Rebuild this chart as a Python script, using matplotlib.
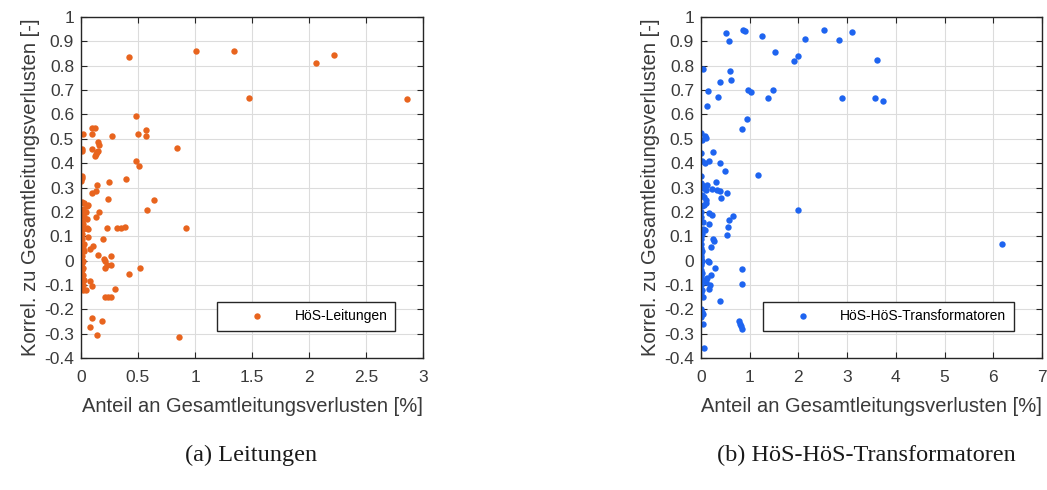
import matplotlib
matplotlib.use("Agg")
import matplotlib.pyplot as plt
import numpy as np

plt.rcParams['font.family'] = ['Liberation Sans', 'DejaVu Sans']
plt.rcParams['axes.unicode_minus'] = False

# ---------------- data ----------------
leit_x = [0.42, 1.01, 1.34, 1.47, 2.06, 2.22, 2.86,
          0.485, 0.50, 0.57, 0.57, 0.48, 0.51, 0.845, 0.27,
          0.015, 0.10, 0.12, 0.10, 0.01, 0.01, 0.094, 0.15, 0.16, 0.14, 0.13, 0.12, 0.15,
          0.01, 0.003, 0.005, 0.245, 0.395, 0.14, 0.094, 0.13, 0.237, 0.64, 0.58, 0.16, 0.13,
          0.01, 0.03, 0.05, 0.06, 0.02, 0.04, 0.0, 0.03, 0.05, 0.01, 0.02,
          0.23, 0.32, 0.35, 0.39, 0.925, 0.02, 0.05, 0.06,
          0.01, 0.06, 0.19, 0.01, 0.02, 0.03, 0.08, 0.105, 0.15, 0.20, 0.21, 0.26, 0.225, 0.265, 0.21, 0.515, 0.42,
          0.0, 0.01, 0.0, 0.02, 0.01, 0.0, 0.02, 0.01, 0.0, 0.02, 0.01, 0.03, 0.0, 0.02, 0.01, 0.0, 0.03,
          0.08, 0.10, 0.02, 0.04, 0.30, 0.21, 0.24, 0.26, 0.094, 0.18, 0.08, 0.14, 0.857]
leit_y = [0.837, 0.859, 0.86, 0.669, 0.81, 0.845, 0.665,
          0.595, 0.52, 0.535, 0.513, 0.409, 0.39, 0.461, 0.513,
          0.518, 0.546, 0.546, 0.518, 0.46, 0.45, 0.458, 0.488, 0.475, 0.445, 0.437, 0.43, 0.45,
          0.347, 0.327, 0.34, 0.323, 0.334, 0.309, 0.277, 0.287, 0.253, 0.247, 0.208, 0.2, 0.178,
          0.24, 0.235, 0.225, 0.23, 0.21, 0.2, 0.19, 0.18, 0.17, 0.16, 0.15,
          0.133, 0.134, 0.133, 0.137, 0.133, 0.13, 0.132, 0.13,
          0.09, 0.098, 0.089, 0.06, 0.05, 0.04, 0.048, 0.061, 0.023, 0.007, -0.002, 0.02, -0.02, -0.02, -0.029, -0.029, -0.054,
          0.03, 0.02, 0.01, 0.0, -0.01, -0.02, -0.03, -0.04, -0.05, -0.06, -0.07, -0.08, -0.09, -0.1, 0.11, 0.1, 0.07,
          -0.084, -0.104, -0.12, -0.12, -0.117, -0.148, -0.148, -0.148, -0.236, -0.249, -0.274, -0.304, -0.315]

trafo_x = [0.51, 0.58, 0.87, 0.91, 1.25, 1.52, 1.91, 2.0, 2.14, 2.52, 2.83, 3.09, 3.61, 2.89, 3.58, 3.74, 6.17,
           0.05, 0.60, 0.61, 0.38, 0.14, 0.35, 0.13, 0.97, 1.03, 1.48, 1.37, 0.94, 0.85, 1.18,
           0.0, 0.02, 0.09, 0.11, 0.0, 0.03, 0.08, 0.16, 0.25, 0.40, 0.49, 0.01, 0.0, 0.12, 0.22, 0.31, 0.33, 0.39, 0.54, 0.42,
           0.02, 0.05, 0.10, 0.02, 0.06, 0.10, 0.03, 0.06, 0.10, 0.17, 0.23, 0.66, 0.57, 0.55, 2.0, 0.0, 0.01, 0.05, 0.17, 0.09,
           0.53, 0.05, 0.02, 0.0, 0.24, 0.27, 0.21,
           0.0, 0.01, 0.0, 0.02, 0.0, 0.01, 0.0, 0.02, 0.0, 0.01, 0.0, 0.02, 0.0,
           0.15, 0.17, 0.29, 0.84, 0.21, 0.12, 0.84, 0.05, 0.10, 0.18, 0.17, 0.0, 0.02, 0.01, 0.04, 0.38,
           0.01, 0.02, 0.04, 0.0, 0.04, 0.77, 0.81, 0.83, 0.84, 0.07]
trafo_y = [0.933, 0.90, 0.948, 0.944, 0.92, 0.855, 0.82, 0.84, 0.91, 0.948, 0.904, 0.938, 0.822, 0.669, 0.667, 0.654, 0.069,
           0.786, 0.778, 0.741, 0.735, 0.695, 0.67, 0.633, 0.699, 0.693, 0.70, 0.669, 0.581, 0.541, 0.351,
           0.524, 0.494, 0.51, 0.505, 0.442, 0.41, 0.40, 0.408, 0.447, 0.40, 0.366, 0.349, 0.32, 0.31, 0.293, 0.324, 0.29, 0.287, 0.276, 0.256,
           0.31, 0.30, 0.29, 0.27, 0.26, 0.25, 0.225, 0.23, 0.235, 0.197, 0.187, 0.184, 0.167, 0.139, 0.206, 0.2, 0.18, 0.16, 0.15, 0.125,
           0.105, 0.13, 0.11, 0.10, 0.087, 0.08, 0.057,
           0.09, 0.07, 0.05, 0.04, 0.03, 0.02, 0.01, 0.0, -0.01, -0.02, -0.04, -0.05, -0.065,
           0.0, -0.007, -0.03, -0.036, -0.06, -0.07, -0.097, -0.08, -0.09, -0.1, -0.118, -0.1, -0.12, -0.135, -0.15, -0.166,
           -0.2, -0.21, -0.22, -0.23, -0.26, -0.25, -0.26, -0.27, -0.28, -0.357]

y_ticks = [-0.4, -0.3, -0.2, -0.1, 0, 0.1, 0.2, 0.3, 0.4, 0.5, 0.6, 0.7, 0.8, 0.9, 1]
y_ticklabels = ['-0.4', '-0.3', '-0.2', '-0.1', '0', '0.1', '0.2', '0.3', '0.4', '0.5',
                '0.6', '0.7', '0.8', '0.9', '1']
x_ticks_a = [0, 0.5, 1, 1.5, 2, 2.5, 3]
x_ticklabels_a = ['0', '0.5', '1', '1.5', '2', '2.5', '3']
x_ticks_b = [0, 1, 2, 3, 4, 5, 6, 7]
x_ticklabels_b = ['0', '1', '2', '3', '4', '5', '6', '7']

xlabel = 'Anteil an Gesamtleitungsverlusten [%]'
ylabel = 'Korrel. zu Gesamtleitungsverlusten [-]'
legend_a = 'HöS-Leitungen'
legend_b = 'HöS-HöS-Transformatoren'
caption_a = '(a) Leitungen'
caption_b = '(b) HöS-HöS-Transformatoren'

col_a = '#E8641E'
col_b = '#1E64F0'
axcol = '#262626'
txtcol = '#3a3a3a'

W, H = 1047, 490
fig = plt.figure(figsize=(W / 100, H / 100), dpi=100)

def make_ax(rect, xs, ys, col, xt, xtl, xmax, leg):
    ax = fig.add_axes(rect)
    ax.plot(xs, ys, linestyle='none', marker='o', markersize=4.6,
            color=col, markeredgewidth=0, label=leg)
    ax.set_xlim(0, xmax)
    ax.set_ylim(-0.4, 1)
    ax.set_xticks(xt)
    ax.set_xticklabels(xtl)
    ax.set_yticks(y_ticks)
    ax.set_yticklabels(y_ticklabels)
    ax.grid(True, color='#DCDCDC', linewidth=0.8)
    ax.set_axisbelow(True)
    for s in ax.spines.values():
        s.set_color(axcol)
        s.set_linewidth(1.0)
    ax.tick_params(direction='in', length=4, width=0.8, colors=axcol,
                   labelsize=12.5, top=True, right=True)
    ax.tick_params(axis='x', pad=9)
    ax.tick_params(axis='y', pad=5)
    for lab in ax.get_xticklabels() + ax.get_yticklabels():
        lab.set_color(txtcol)
    ax.set_xlabel(xlabel, fontsize=14.5, color=txtcol, labelpad=8)
    ax.set_ylabel(ylabel, fontsize=14.5, color=txtcol, labelpad=3)
    lg = ax.legend(loc='lower right', bbox_to_anchor=(0.918, 0.079),
                   borderaxespad=0, fontsize=10, handlelength=4.6,
                   handletextpad=0.4, borderpad=0.55, numpoints=1,
                   fancybox=False, framealpha=1, markerscale=1.0)
    lg.get_frame().set_edgecolor(axcol)
    lg.get_frame().set_linewidth(1.0)
    return ax

b = 1 - 358 / H
h = (358 - 17) / H
make_ax([81 / W, b, 342 / W, h], leit_x, leit_y, col_a, x_ticks_a, x_ticklabels_a, 3, legend_a)
make_ax([701 / W, b, 341 / W, h], trafo_x, trafo_y, col_b, x_ticks_b, x_ticklabels_b, 7, legend_b)

fig.text(251 / W, 1 - 455 / H, caption_a, ha='center', va='center',
         fontsize=17.5, family=['Liberation Serif', 'DejaVu Serif'], color='#1a1a1a')
fig.text(866 / W, 1 - 455 / H, caption_b, ha='center', va='center',
         fontsize=17.5, family=['Liberation Serif', 'DejaVu Serif'], color='#1a1a1a')

fig.savefig('out.png', dpi=100)
